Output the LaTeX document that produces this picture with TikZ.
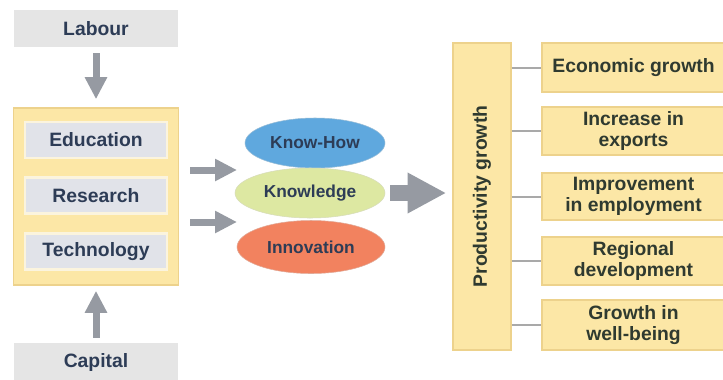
\documentclass[tikz,border=0pt]{standalone}
\usepackage{fontspec}
\setmainfont{Liberation Sans}
\usetikzlibrary{shapes.geometric,arrows.meta}
\definecolor{txtnavy}{HTML}{2D3C56}
\definecolor{txtdark}{HTML}{2F3A30}
\definecolor{greybox}{HTML}{E5E5E5}
\definecolor{yelfill}{HTML}{FCE7A6}
\definecolor{yelline}{HTML}{EDD28C}
\definecolor{innerfill}{HTML}{E1E3E9}
\definecolor{innerline}{HTML}{FBF4DE}
\definecolor{arrgrey}{HTML}{969AA2}
\definecolor{linegrey}{HTML}{A9A9A9}
\definecolor{kblue}{HTML}{5FA8DE}
\definecolor{kgreen}{HTML}{DDE8A2}
\definecolor{korange}{HTML}{F2825F}
\def\px{0.75pt}
\begin{document}
\begin{tikzpicture}[x=0.75pt,y=-0.75pt,
  txt/.style={font=\bfseries\fontsize{14.5}{15.5}\selectfont},
  greyin/.style={txt, text=txtnavy, fill=greybox, draw=none, minimum width=164*\px, minimum height=37*\px, inner sep=0pt},
  bigyel/.style={fill=yelfill, draw=yelline, line width=1.2pt, inner sep=0pt},
  innerbox/.style={txt, text=txtnavy, fill=innerfill, draw=innerline, line width=1.8pt, minimum width=142*\px, minimum height=36*\px, inner sep=0pt},
  ell/.style={ellipse, font=\bfseries\fontsize{13}{14}\selectfont, text=txtnavy, minimum height=50*\px, inner sep=0pt},
  outbox/.style={txt, text=txtdark, fill=yelfill, draw=yelline, line width=1.2pt, minimum width=183*\px, minimum height=48*\px, inner sep=0pt, align=center},
  grarrow/.style={draw=arrgrey, line width=5.25pt, -{Triangle[width=15.75pt,length=16.5pt]}},
  linkline/.style={draw=linegrey, line width=1.5pt}
]
\useasboundingbox (0,0) rectangle (723,379);
\fill[white] (0,0) rectangle (723,379);

% left column
\node[greyin] (labour) at (96,28.5) {Labour};
\node[bigyel, minimum width=165*\px, minimum height=177*\px] (ybox) at (96,196.5) {};
\node[innerbox] (edu) at (96,140) {Education};
\node[innerbox] (res) at (96,195.5) {Research};
\node[innerbox] (tech) at (96,251.5) {Technology};
\node[greyin, minimum height=38*\px] (capital) at (96,362) {Capital};

\draw[grarrow, shorten <=6*\px, shorten >=8*\px] (labour.south) -- (ybox.north);
\draw[grarrow, shorten <=5*\px, shorten >=5*\px] (capital.north) -- (ybox.south);

% ellipses
\node[ell, fill=kblue, draw=kblue!85!black!60, line width=0.4pt, minimum width=140*\px] (khow) at (315,143) {Know-How};
\node[ell, fill=kgreen, draw=kgreen!85!black!60, line width=0.4pt, minimum width=150*\px] (know) at (310,193) {Knowledge};
\node[ell, fill=korange, draw=korange!85!black!60, line width=0.4pt, minimum width=148*\px, minimum height=53*\px] (innov) at (311,247) {Innovation};

\coordinate (t1) at (237,170);
\coordinate (t2) at (237,222);
\draw[grarrow, shorten <=11*\px] (ybox.east |- t1) -- (t1);
\draw[grarrow, shorten <=11*\px] (ybox.east |- t2) -- (t2);

% productivity box
\node[bigyel, minimum width=58*\px, minimum height=307*\px] (prod) at (482,196.5) {};
\node[txt, text=txtdark, rotate=90] (prodtxt) at (prod.center) {Productivity growth};

\draw[draw=arrgrey, line width=11.5pt, -{Triangle[width=28.5pt,length=29pt]}, shorten <=5*\px, shorten >=6*\px] (know.east) -- (prod.west |- know.east);

% outcome boxes
\node[outbox, minimum height=49*\px] (b1) at (633.5,67.5) {Economic growth};
\node[outbox] (b2) at (633.5,131) {Increase in\\exports};
\node[outbox, minimum height=47*\px] (b3) at (633.5,196.5) {Improvement\\in employment};
\node[outbox] (b4) at (633.5,261) {Regional\\development};
\node[outbox, minimum height=50*\px] (b5) at (633.5,325) {Growth in\\well-being};

\foreach \b in {b1,b2,b3,b4,b5}
  \draw[linkline] (prod.east |- \b.west) -- (\b.west);
\end{tikzpicture}
\end{document}
